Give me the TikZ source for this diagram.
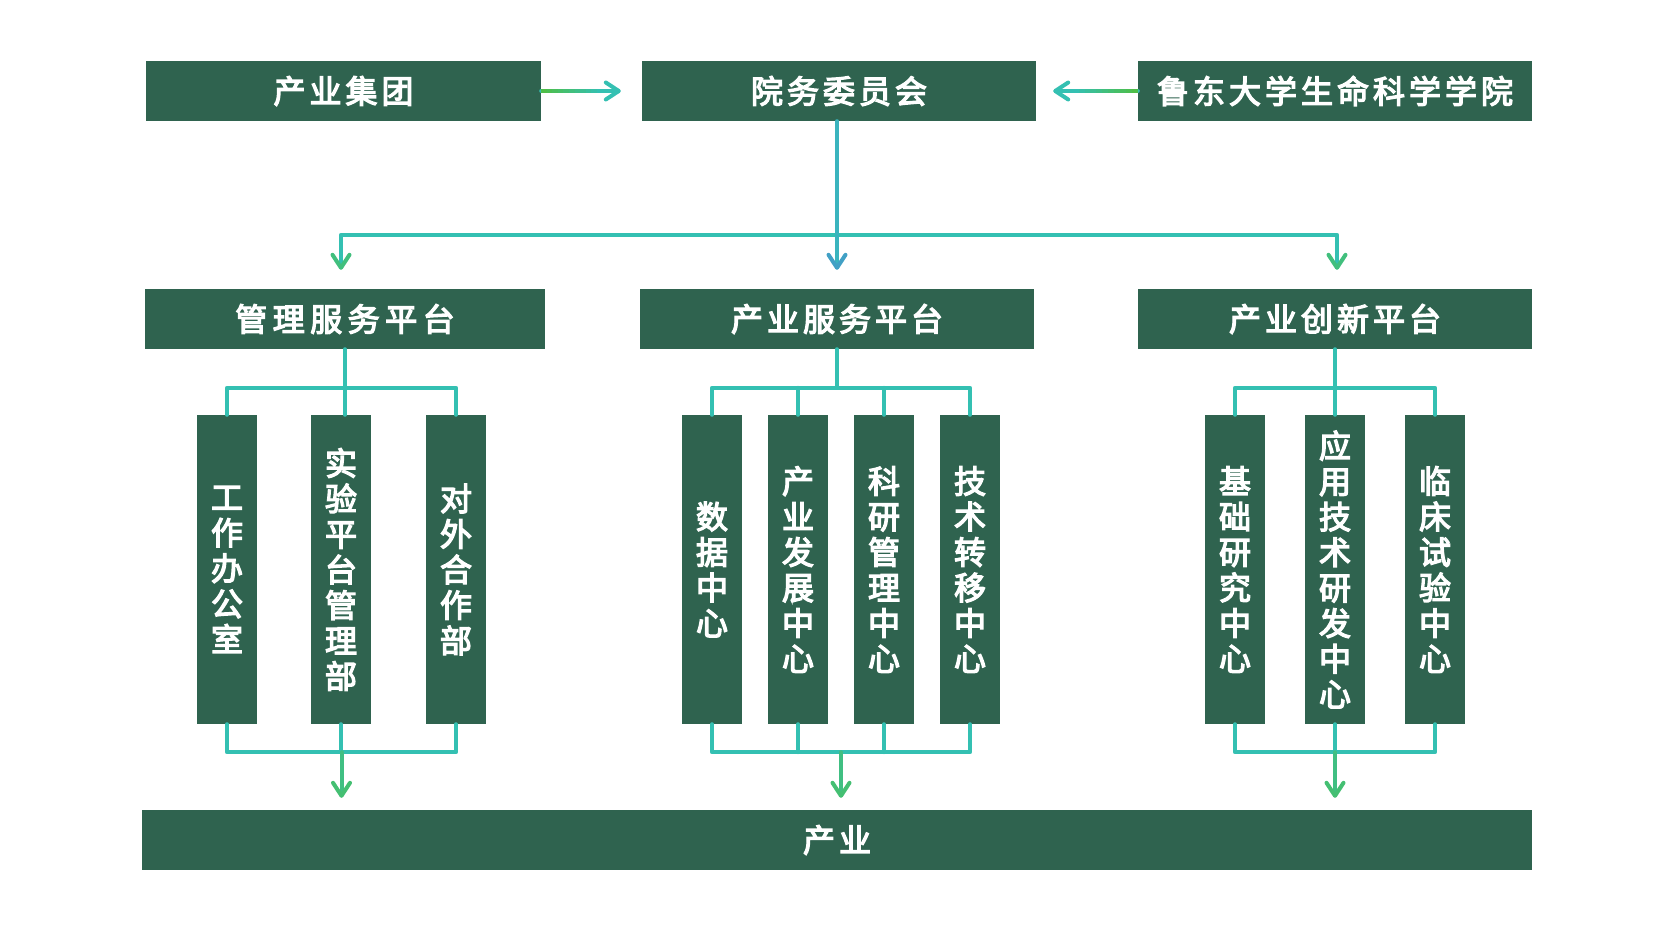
\documentclass[tikz,border=0pt]{standalone}
\usepackage{fontspec}
\newfontfamily\cjk{Noto Sans CJK SC}[FakeBold=4]
\usetikzlibrary{arrows.meta,calc}
\definecolor{boxg}{RGB}{47,99,79}
\definecolor{tealc}{RGB}{52,192,178}
\definecolor{grnc}{RGB}{78,190,72}
\definecolor{trunkc}{RGB}{58,180,190}
\definecolor{bluc}{RGB}{72,140,205}
\makeatletter
\newdimen\sp@gap
\newcommand\spaced[2]{\sp@gap=#1\relax\kern-\sp@gap\sp@loop#2\@nil}
\def\sp@loop#1{\ifx#1\@nil\else\kern\sp@gap#1\expandafter\sp@loop\fi}
\makeatother
\newcommand\gradline[5]{%
  \foreach \k in {1,...,10}{%
    \pgfmathsetmacro\ta{(\k-1)/10*#5}%
    \pgfmathsetmacro\tb{\k/10*#5}%
    \pgfmathtruncatemacro\pc{100-(\k-1)*10}%
    \draw[line width=4pt, draw=#3!\pc!#4] ($(#1)!\ta!(#2)$) -- ($(#1)!\tb!(#2)$);
  }}
\tikzset{
  box/.style={fill=boxg, draw=none, text=white, inner sep=0pt, anchor=center,
    font=\cjk\fontsize{32}{35.5}\selectfont},
  hbox/.style={box, minimum height=60pt},
  vbox/.style={box, minimum width=60pt, minimum height=309pt, align=center},
  conn/.style={draw=tealc, line width=4pt, line cap=round, line join=round},
  arr/.style={conn, -{Straight Barb[length=13pt,width=17pt,round,color=#1]}},
  arr/.default=tealc,
}
\begin{document}
\begin{tikzpicture}[x=1pt,y=-1pt]
\useasboundingbox (0,0) rectangle (1679,941);
\fill[white] (0,0) rectangle (1679,941);

% top row
\node[hbox, minimum width=395pt] (jt) at (343.5,91) {\spaced{4pt}{产业集团}};
\node[hbox, minimum width=394pt] (ywh) at (839,91) {\spaced{4pt}{院务委员会}};
\node[hbox, minimum width=394pt] (ld) at (1335,91) {\spaced{4pt}{鲁东大学生命科学学院}};

% platforms
\node[hbox, minimum width=400pt] (p1) at (345,319) {\spaced{5.5pt}{管理服务平台}};
\node[hbox, minimum width=394pt] (p2) at (837,319) {\spaced{4pt}{产业服务平台}};
\node[hbox, minimum width=394pt] (p3) at (1335,319) {\spaced{4pt}{产业创新平台}};

% departments
\node[vbox] (a1) at (227,569.5) {工\\作\\办\\公\\室};
\node[vbox] (a2) at (341,569.5) {实\\验\\平\\台\\管\\理\\部};
\node[vbox] (a3) at (456,569.5) {对\\外\\合\\作\\部};
\node[vbox] (b1) at (712,569.5) {数\\据\\中\\心};
\node[vbox] (b2) at (798,569.5) {产\\业\\发\\展\\中\\心};
\node[vbox] (b3) at (884,569.5) {科\\研\\管\\理\\中\\心};
\node[vbox] (b4) at (970,569.5) {技\\术\\转\\移\\中\\心};
\node[vbox] (c1) at (1235,569.5) {基\\础\\研\\究\\中\\心};
\node[vbox] (c2) at (1335,569.5) {应\\用\\技\\术\\研\\发\\中\\心};
\node[vbox] (c3) at (1435,569.5) {临\\床\\试\\验\\中\\心};

% bottom
\node[hbox, minimum width=1390pt] (cy) at (837,840) {\spaced{4pt}{产业}};

% top horizontal arrows
\coordinate (t1) at ($(ywh.west)+(-21,0)$);
\coordinate (t2) at ($(ywh.east)+(17,0)$);
\draw[arr] (jt.east) -- (t1);
\gradline{jt.east}{t1}{grnc}{tealc}{0.7}
\draw[arr] (ld.west) -- (t2);
\gradline{ld.west}{t2}{grnc}{tealc}{0.7}

% trunk and distribution
\coordinate (L) at ($(p1.north)+(-4,-54)$);
\coordinate (R) at ($(p3.north)+(2,-54)$);
\coordinate (tL) at ($(p1.north)+(-4,-19)$);
\coordinate (tR) at ($(p3.north)+(2,-19)$);
\coordinate (tM) at ($(p2.north)+(0,-19)$);
\draw[conn, {Straight Barb[length=13pt,width=17pt,round,color=tealc!50!grnc]}-{Straight Barb[length=13pt,width=17pt,round,color=tealc!50!grnc]}]
  (tL) -- (L) -- (R) -- (tR);
\draw[arr=trunkc!50!bluc, draw=trunkc] (p2.north |- ywh.south) -- (tM);

% platform 1 fan-out
\draw[conn] (a1.north) -- ++(0,-27) -| (a3.north);
\draw[conn] (p1.south) -- (p1.south |- a2.north);
\draw[conn] (a1.south) -- ++(0,28) -| (a3.south);
\draw[conn] (a2.south) -- ++(0,28);

% platform 2 fan-out
\draw[conn] (b1.north) -- ++(0,-27) -| (b4.north);
\draw[conn] (b2.north) -- ++(0,-27);
\draw[conn] (b3.north) -- ++(0,-27);
\draw[conn] (p2.south) -- ++(0,38);
\draw[conn] (b1.south) -- ++(0,28) -| (b4.south);
\draw[conn] (b2.south) -- ++(0,28);
\draw[conn] (b3.south) -- ++(0,28);

% platform 3 fan-out
\draw[conn] (c1.north) -- ++(0,-27) -| (c3.north);
\draw[conn] (p3.south) -- (p3.south |- c2.north);
\draw[conn] (c1.south) -- ++(0,28) -| (c3.south);
\draw[conn] (c2.south) -- ++(0,28);

% arrows to industry
\coordinate (m1) at ($(a1.south)!0.5!(a3.south)+(0,28)$);
\coordinate (m2) at ($(b1.south)!0.5!(b4.south)+(0,28)$);
\coordinate (m3) at ($(c1.south)!0.5!(c3.south)+(0,28)$);
\coordinate (e1) at ($(m1 |- cy.north)+(0,-12)$);
\coordinate (e2) at ($(m2 |- cy.north)+(0,-12)$);
\coordinate (e3) at ($(m3 |- cy.north)+(0,-12)$);
\draw[arr=grnc!60!tealc, draw=grnc!45!tealc] (m1) -- (e1);
\draw[arr=grnc!60!tealc, draw=grnc!45!tealc] (m2) -- (e2);
\draw[arr=grnc!60!tealc, draw=grnc!45!tealc] (m3) -- (e3);
\end{tikzpicture}
\end{document}
